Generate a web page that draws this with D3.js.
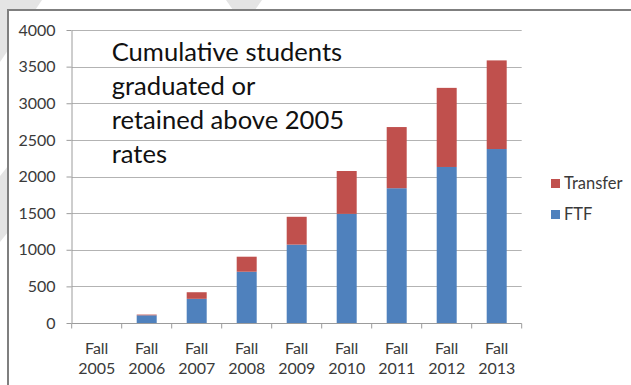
<!DOCTYPE html>
<html>
<head>
<meta charset="utf-8">
<script src="https://cdn.jsdelivr.net/npm/d3@7"></script>
<style>
  body { margin: 0; background: #fff; }
  svg { display: block; font-family: Lato, "Open Sans", sans-serif; }
</style>
</head>
<body>
<div id="chart"></div>
<script>
'use strict';

// Data
const years = ['2005', '2006', '2007', '2008', '2009', '2010', '2011', '2012', '2013'];
const ftf = [0, 105, 330, 700, 1070, 1490, 1840, 2130, 2375];
const transfer = [0, 10, 90, 205, 380, 585, 835, 1080, 1210];
const yTicks = [0, 500, 1000, 1500, 2000, 2500, 3000, 3500, 4000];
const titleLines = ['Cumulative students', 'graduated or', 'retained above 2005', 'rates'];

const width = 631, height = 385;
const colors = { FTF: '#4f81bd', Transfer: '#c0504d' };

let svg = d3.select('#chart').append('svg')
    .attr('width', width).attr('height', height);

// background watermark bits peeking out around the frame
let wm = svg.append('g').attr('fill', '#e4e4e4');
wm.append('path').attr('d', 'M0,0 L42,0 L0,62 Z');
wm.append('path').attr('d', 'M0,176 L8,166 L8,232 L0,242 Z');
wm.append('path').attr('d', 'M226,0 L262,0 L255,10 L233,10 Z');

// frame
svg.append('path')
    .attr('d', `M8,${height} L8,10 L${width},10`)
    .attr('fill', 'none')
    .attr('stroke', '#7f7f7f')
    .attr('stroke-width', 2);
svg.append('rect').attr('x', 9).attr('y', 11).attr('width', width - 9).attr('height', height - 11).attr('fill', '#fff');

// scales
let x = d3.scaleBand().domain(years).range([71.7, 521.7]).paddingInner(0.6).paddingOuter(0.3);
let y = d3.scaleLinear().domain([0, 4000]).range([323, 30]);

// stacked data
let table = years.map((yr, i) => ({ year: yr, FTF: ftf[i], Transfer: transfer[i] }));
let stack = d3.stack().keys(['FTF', 'Transfer'])(table);

let chart = svg.append('g');

// gridlines
chart.selectAll('line.grid')
    .data(yTicks.filter(d => d > 0))
    .join('line')
    .classed('grid', true)
    .attr('x1', 71.7).attr('x2', 521.7)
    .attr('y1', d => Math.round(y(d)) + 0.5).attr('y2', d => Math.round(y(d)) + 0.5)
    .attr('stroke', '#b3b3b3').attr('stroke-width', 1);

// y axis
let yAxis = chart.append('g')
    .attr('transform', 'translate(71.5,0)')
    .call(d3.axisLeft(y).tickValues(yTicks).tickFormat(d3.format('d'))
        .tickSize(5).tickPadding(11).tickSizeOuter(0));
yAxis.select('.domain').attr('stroke', '#9c9c9c');
yAxis.selectAll('.tick line').attr('stroke', '#9c9c9c');
yAxis.selectAll('.tick text')
    .attr('font-family', 'Lato, sans-serif').attr('font-size', 16).attr('fill', '#3a3a3a');

// bars
chart.selectAll('g.series')
    .data(stack)
    .join('g')
    .classed('series', true)
    .attr('fill', d => colors[d.key])
    .selectAll('rect')
    .data(d => d)
    .join('rect')
    .attr('x', d => x(d.data.year))
    .attr('width', x.bandwidth())
    .attr('y', d => y(d[1]))
    .attr('height', d => y(d[0]) - y(d[1]));

// x axis
let xAxis = chart.append('g').attr('transform', `translate(0,${Math.round(y(0)) + 0.5})`);
xAxis.append('line').attr('x1', 71.7).attr('x2', 521.7).attr('stroke', '#9c9c9c');
xAxis.selectAll('line.tick')
    .data(d3.range(years.length + 1))
    .join('line')
    .classed('tick', true)
    .attr('x1', i => 71.7 + i * x.step()).attr('x2', i => 71.7 + i * x.step())
    .attr('y1', 0).attr('y2', 5)
    .attr('stroke', '#9c9c9c');
let xLabels = xAxis.selectAll('text.lbl')
    .data(years)
    .join('text')
    .classed('lbl', true)
    .attr('text-anchor', 'middle')
    .attr('font-size', 16)
    .attr('fill', '#3a3a3a')
    .attr('x', d => x(d) + x.bandwidth() / 2);
xLabels.append('tspan').attr('x', d => x(d) + x.bandwidth() / 2).attr('y', 30).text('Fall');
xLabels.append('tspan').attr('x', d => x(d) + x.bandwidth() / 2).attr('y', 50).text(d => d);

// title inside plot
chart.append('g').selectAll('text')
    .data(titleLines)
    .join('text')
    .attr('x', 111.7)
    .attr('y', (d, i) => 60.5 + i * 34.2)
    .attr('font-size', 25.6)
    .attr('fill', '#111')
    .text(d => d);

// legend
let legend = svg.append('g').attr('transform', 'translate(551,0)');
let legendItems = legend.selectAll('g')
    .data(['Transfer', 'FTF'])
    .join('g')
    .attr('transform', (d, i) => `translate(0,${179 + i * 31})`);
legendItems.append('rect')
    .attr('width', 9).attr('height', 9)
    .attr('fill', d => colors[d]);
legendItems.append('text')
    .attr('x', 13).attr('y', 10)
    .attr('font-size', 16.5)
    .attr('fill', '#3a3a3a')
    .text(d => d);
</script>
</body>
</html>
